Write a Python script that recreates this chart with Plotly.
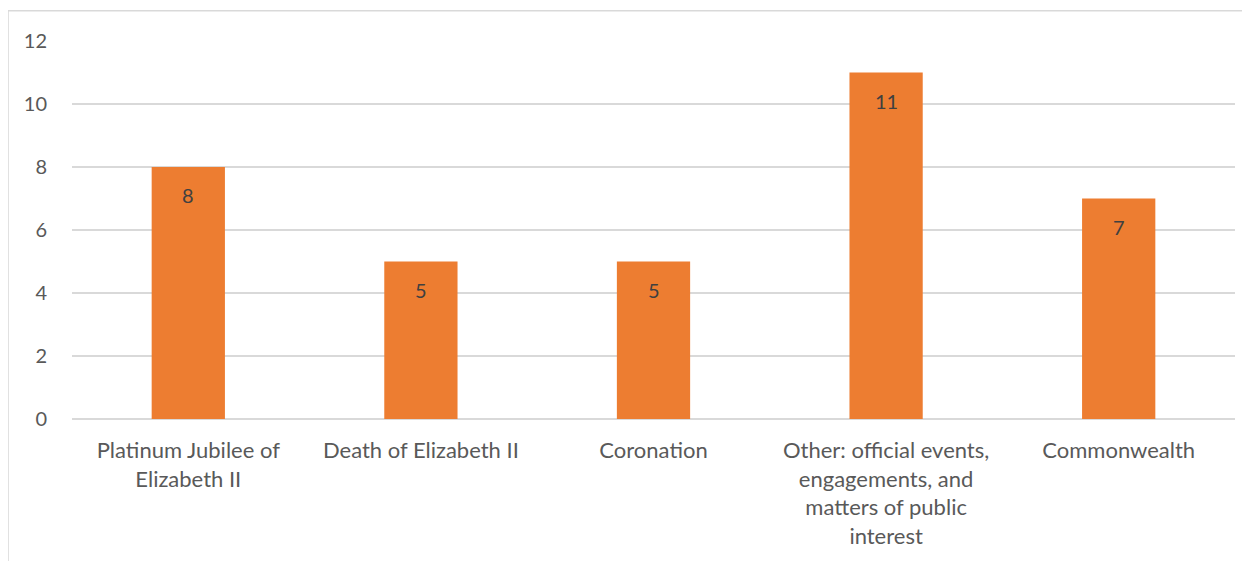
import plotly.graph_objects as go

categories = [
    "Platinum Jubilee of<br>Elizabeth II",
    "Death of Elizabeth II",
    "Coronation",
    "Other: official events,<br>engagements, and<br>matters of public<br>interest",
    "Commonwealth",
]
values = [8, 5, 5, 11, 7]
y_ticks = [0, 2, 4, 6, 8, 10, 12]

fig = go.Figure(
    go.Bar(
        x=categories,
        y=values,
        marker=dict(color="#ED7D31", line=dict(width=0)),
        width=0.315,
        hoverinfo="x+y",
    )
)

for c, v in zip(categories, values):
    fig.add_annotation(
        x=c, y=v, text=str(v), showarrow=False,
        yanchor="middle", yshift=-28,
        font=dict(family="Lato, sans-serif", size=20, color="#404040"),
    )

fig.update_layout(
    width=1242,
    height=553,
    margin=dict(l=64, r=15, t=33, b=139),
    paper_bgcolor="white",
    plot_bgcolor="white",
    showlegend=False,
    font=dict(family="Lato, sans-serif", size=19, color="#595959"),
    xaxis=dict(
        showgrid=False,
        showline=False,
        ticks="",
        ticklabelstandoff=16,
        tickfont=dict(size=22, color="#595959"),
    ),
    yaxis=dict(
        range=[0, 12],
        tickvals=y_ticks,
        showgrid=True,
        gridcolor="#D9D9D9",
        gridwidth=1.5,
        zeroline=True,
        zerolinecolor="#D9D9D9",
        zerolinewidth=1.5,
        showline=False,
        ticks="",
        ticklabelstandoff=24,
        tickfont=dict(size=20, color="#595959"),
    ),
    shapes=[
        dict(
            type="rect",
            xref="paper",
            yref="paper",
            x0=-0.055,
            x1=1.2,
            y0=-1.0,
            y1=1.08,
            line=dict(color="#D9D9D9", width=1.5),
            fillcolor="rgba(0,0,0,0)",
            layer="below",
        )
    ],
)

fig.write_html("out.html")
